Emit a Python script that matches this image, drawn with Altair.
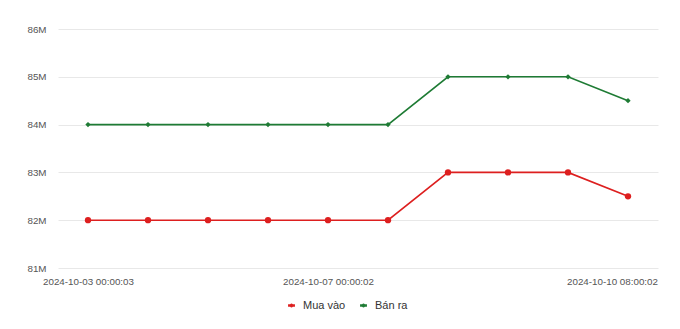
import altair as alt
import pandas as pd

times = [
    "2024-10-03 00:00:03",
    "2024-10-04 00:00:02",
    "2024-10-05 00:00:02",
    "2024-10-06 00:00:02",
    "2024-10-07 00:00:02",
    "2024-10-08 00:00:02",
    "2024-10-09 00:00:02",
    "2024-10-09 08:00:02",
    "2024-10-10 00:00:02",
    "2024-10-10 08:00:02",
]
mua_vao = [82.0, 82.0, 82.0, 82.0, 82.0, 82.0, 83.0, 83.0, 83.0, 82.5]
ban_ra = [84.0, 84.0, 84.0, 84.0, 84.0, 84.0, 85.0, 85.0, 85.0, 84.5]
series = ["Mua vào", "Bán ra"]
colors = ["#dd1f1f", "#1e7b34"]
shown_labels = [times[0], times[4], times[9]]

rows = []
for t, v in zip(times, mua_vao):
    rows.append({"time": t, "value": v * 1e6, "series": series[0], "kind": series[0]})
for t, v in zip(times, ban_ra):
    rows.append({"time": t, "value": v * 1e6, "series": series[1], "kind": series[1]})
df = pd.DataFrame(rows)

last = times[-1]
x = alt.X(
    "time:N",
    sort=times,
    scale=alt.Scale(type="point", padding=0.5),
    axis=alt.Axis(
        title=None,
        values=shown_labels,
        labelAngle=0,
        labelFont="Liberation Sans",
        labelFontSize=9.8,
        labelColor="#555555",
        labelPadding=8,
        ticks=False,
        domain=False,
        grid=False,
        labelOffset={"condition": {"test": f"datum.value == '{last}'", "value": -16}, "value": 0},
    ),
)
y = alt.Y(
    "value:Q",
    scale=alt.Scale(domain=[81e6, 86e6], nice=False, zero=False),
    axis=alt.Axis(
        title=None,
        values=[81e6, 82e6, 83e6, 84e6, 85e6, 86e6],
        format="~s",
        labelFont="Liberation Sans",
        labelFontSize=9.8,
        labelColor="#555555",
        labelPadding=12,
        ticks=False,
        domain=False,
        grid=True,
        gridColor="#e8e8e8",
        gridWidth=1,
    ),
)
color_scale = alt.Scale(domain=series, range=colors)
legend_symbol = "M-0.5,0H0.5M0.1,0A0.1,0.1 0 1,1 -0.1,0A0.1,0.1 0 1,1 0.1,0Z"

line = alt.Chart(df).mark_line(strokeWidth=1.6).encode(
    x=x,
    y=y,
    color=alt.Color(
        "series:N",
        scale=color_scale,
        sort=series,
        legend=alt.Legend(
            title=None,
            orient="none",
            direction="horizontal",
            legendX=225,
            legendY=268,
            symbolType=legend_symbol,
            symbolSize=190,
            symbolStrokeWidth=2.4,
            labelFont="Liberation Sans",
            labelFontSize=11,
            labelColor="#333333",
            columnPadding=9,
            labelOffset=3,
        ),
    ),
)

points = alt.Chart(df).mark_point(filled=True, opacity=1).encode(
    x=x,
    y=y,
    color=alt.Color("series:N", scale=color_scale, sort=series, legend=None),
    shape=alt.Shape("kind:N", scale=alt.Scale(domain=series, range=["circle", "diamond"]), legend=None),
    size=alt.Size("kind:N", scale=alt.Scale(domain=series, range=[40, 28]), legend=None),
)

chart = (
    alt.layer(line, points)
    .resolve_legend(color="independent", shape="independent", size="independent")
    .properties(
        width=600,
        height=239,
        autosize=alt.AutoSizeParams(type="none"),
        padding={"left": 58, "top": 29, "right": 22, "bottom": 61},
        background="white",
    )
    .configure_view(stroke="transparent", strokeWidth=0)
)

chart.save("out.html", embed_options={"renderer": "svg", "actions": False})
